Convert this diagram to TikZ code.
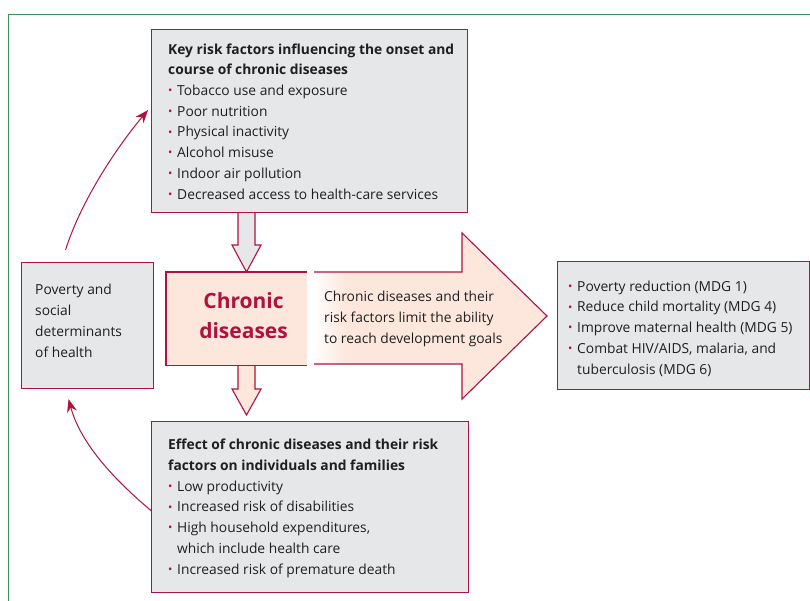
\documentclass[tikz,border=0pt]{standalone}
\usepackage{fontspec}
\setmainfont{Open Sans}
\usetikzlibrary{arrows.meta,positioning}
\definecolor{lancetred}{HTML}{B0123D}
\definecolor{boxgray}{HTML}{E6E7E8}
\definecolor{boxpink}{HTML}{FDE7DD}
\definecolor{framegreen}{HTML}{3A9160}
\newcommand{\bul}{\makebox[9pt][l]{\color{lancetred}\raisebox{0.8pt}{\fontsize{11.5}{11.5}\selectfont\textbullet}}}
\newcommand{\ind}{\hspace*{9pt}}
\tikzset{
  box/.style={draw=lancetred, fill=boxgray, line width=1.1pt, inner sep=0pt, anchor=north west},
  txt/.style={anchor=base west, align=left, inner sep=0pt, text=black!88, font=\fontsize{13.8}{20.7}\selectfont},
  loop/.style={lancetred, line width=1pt, -{Stealth[length=13pt,width=10pt]}}
}
\begin{document}
\begin{tikzpicture}[x=1pt,y=-1pt]
    \useasboundingbox (0,0) rectangle (810,600);
    \draw[framegreen, line width=1pt] (8.5,14) rectangle (830,620);
    \filldraw[fill=boxgray, draw=lancetred, line width=1.1pt] (238,212) -- (238,245) -- (232,245) -- (246.5,272) -- (261,245) -- (255,245) -- (255,212);
    \filldraw[fill=boxpink, draw=lancetred, line width=1.1pt] (238,364) -- (238,389) -- (232,389) -- (246.5,415) -- (261,389) -- (255,389) -- (255,364);
    \fill[boxpink] (314,272) -- (462,272) -- (462,233) -- (547,316) -- (462,399) -- (462,364) -- (314,364) -- cycle;
    \shade[left color=white, right color=boxpink] (313.5,272.6) rectangle (345,363.4);
    \draw[lancetred, line width=1.1pt] (314,272) -- (462,272) -- (462,233) -- (547,316) -- (462,399) -- (462,364) -- (314,364);
    \node[box, minimum width=316, minimum height=183] (risk) at (151,29) {};
    \node[box, minimum width=132, minimum height=126] (pov) at (21,262) {};
    \node[box, minimum width=317, minimum height=171] (effect) at (151,421) {};
    \node[box, minimum width=252, minimum height=128] (goals) at (557,261) {};
    \node[box, draw=none, fill=boxpink, minimum width=140, minimum height=92] (chr) at (166,272) {};
    \draw[lancetred, line width=1.1pt] (chr.north east) -- (chr.north west) -- (chr.south west) -- (chr.south east);
    \node[txt] (risktxt) at (168,199) {\textbf{Key risk factors influencing the onset and}\\
        \textbf{course of chronic diseases}\\
        \bul Tobacco use and exposure\\
        \bul Poor nutrition\\
        \bul Physical inactivity\\
        \bul Alcohol misuse\\
        \bul Indoor air pollution\\
        \bul Decreased access to health-care services};
    \node[txt] (povtxt) at (35,357) {Poverty and\\social\\determinants\\of health};
    \node[font=\fontsize{21}{30}\selectfont\bfseries, text=lancetred, align=center] (chrtxt) at ([xshift=7pt, yshift=3pt]chr.center) {Chronic\\diseases};
    \node[txt] (limtxt) at (324,343) {Chronic diseases and their\\risk factors limit the ability\\to reach development goals};
    \node[txt] (goalstxt) at (568,374) {\bul Poverty reduction (MDG 1)\\
        \bul Reduce child mortality (MDG 4)\\
        \bul Improve maternal health (MDG 5)\\
        \bul Combat HIV/AIDS, malaria, and\\
        \ind tuberculosis (MDG 6)};
    \node[txt] (effecttxt) at (168,574) {\textbf{Effect of chronic diseases and their risk}\\
        \textbf{factors on individuals and families}\\
        \bul Low productivity\\
        \bul Increased risk of disabilities\\
        \bul High household expenditures,\\
        \ind which include health care\\
        \bul Increased risk of premature death};
    \coordinate (povup) at ([xshift=-22pt, yshift=12pt]pov.north);
    \coordinate (riskin) at ([xshift=-3pt, yshift=11pt]risk.west);
    \coordinate (effectout) at ([yshift=-3.5pt]effect.west);
    \coordinate (povdown) at ([xshift=-19pt, yshift=-10pt]pov.south);
    \draw[loop] (povup) .. controls +(15,-48) and +(-32,38) .. (riskin);
    \draw[loop] (effectout) .. controls +(-38,-32) and +(12,44) .. (povdown);
\end{tikzpicture}
\end{document}
